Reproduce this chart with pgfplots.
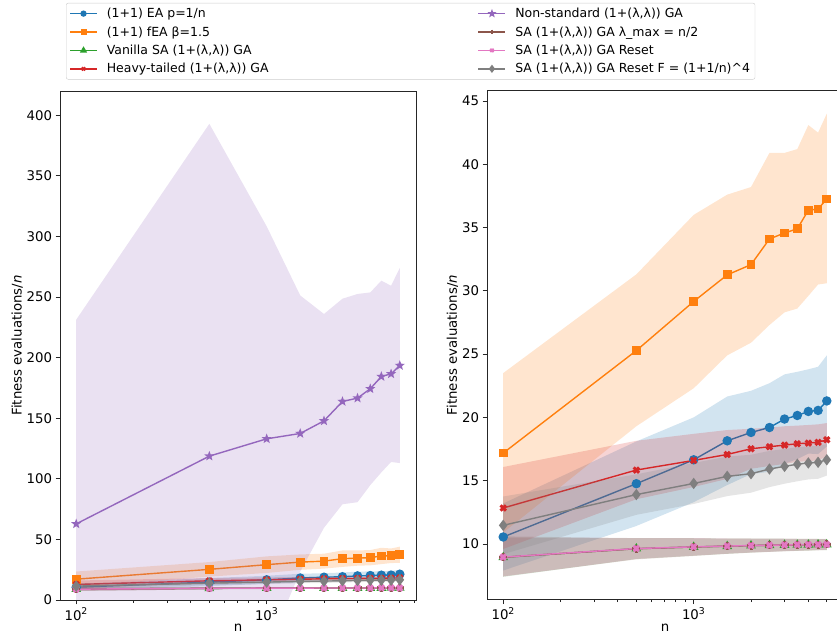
\documentclass[border=0pt]{standalone}
\usepackage{fontspec}
\setmainfont{DejaVu Sans}
\usepackage{pgfplots}
\pgfplotsset{compat=1.18}
\usepackage{pgfplotstable}

\definecolor{cEA}{HTML}{1F77B4}
\definecolor{cfEA}{HTML}{FF7F0E}
\definecolor{cVan}{HTML}{2CA02C}
\definecolor{cHT}{HTML}{D62728}
\definecolor{cNS}{HTML}{9467BD}
\definecolor{cLM}{HTML}{8C564B}
\definecolor{cRS}{HTML}{E377C2}
\definecolor{cRF}{HTML}{7F7F7F}

\pgfdeclareplotmark{fstar}{%
  \pgfpathmoveto{\pgfpointpolar{90}{\pgfplotmarksize}}%
  \pgfpathlineto{\pgfpointpolar{126}{0.42\pgfplotmarksize}}%
  \pgfpathlineto{\pgfpointpolar{162}{\pgfplotmarksize}}%
  \pgfpathlineto{\pgfpointpolar{198}{0.42\pgfplotmarksize}}%
  \pgfpathlineto{\pgfpointpolar{234}{\pgfplotmarksize}}%
  \pgfpathlineto{\pgfpointpolar{270}{0.42\pgfplotmarksize}}%
  \pgfpathlineto{\pgfpointpolar{306}{\pgfplotmarksize}}%
  \pgfpathlineto{\pgfpointpolar{342}{0.42\pgfplotmarksize}}%
  \pgfpathlineto{\pgfpointpolar{18}{\pgfplotmarksize}}%
  \pgfpathlineto{\pgfpointpolar{54}{0.42\pgfplotmarksize}}%
  \pgfpathclose
  \pgfusepathqfillstroke}

% ---------- means ----------
\pgfplotstableread{
x y
100 10.55
500 14.76
1000 16.65
1500 18.15
2000 18.81
2500 19.20
3000 19.87
3500 20.15
4000 20.47
4500 20.55
5000 21.30
}\tEA
\pgfplotstableread{
x y
100 17.18
500 25.28
1000 29.16
1500 31.26
2000 32.07
2500 34.10
3000 34.57
3500 34.90
4000 36.37
4500 36.47
5000 37.26
}\tfEA
\pgfplotstableread{
x y
100 8.94
500 9.63
1000 9.76
1500 9.82
2000 9.87
2500 9.90
3000 9.92
3500 9.93
4000 9.94
4500 9.95
5000 9.95
}\tVan
\pgfplotstableread{
x y
100 12.84
500 15.84
1000 16.60
1500 17.07
2000 17.52
2500 17.68
3000 17.81
3500 17.92
4000 17.97
4500 18.03
5000 18.23
}\tHT
\pgfplotstableread{
x y
100 62.8
500 118.7
1000 133.0
1500 137.4
2000 147.8
2500 163.8
3000 166.6
3500 174.3
4000 184.4
4500 186.6
5000 193.5
}\tNS
\pgfplotstableread{
x y
100 8.95
500 9.62
1000 9.76
1500 9.83
2000 9.87
2500 9.90
3000 9.92
3500 9.93
4000 9.94
4500 9.95
5000 9.96
}\tLM
\pgfplotstableread{
x y
100 8.96
500 9.64
1000 9.77
1500 9.83
2000 9.88
2500 9.90
3000 9.92
3500 9.94
4000 9.95
4500 9.95
5000 9.96
}\tRS
\pgfplotstableread{
x y
100 11.47
500 13.90
1000 14.78
1500 15.34
2000 15.55
2500 15.92
3000 16.13
3500 16.30
4000 16.40
4500 16.45
5000 16.65
}\tRF

% ---------- bands (upper edge forward, lower edge back) ----------
\pgfplotstableread{
x b
100 13.20
500 18.10
1000 20.00
1500 21.65
2000 22.10
2500 22.70
3000 23.40
3500 23.60
4000 23.80
4500 24.00
5000 24.90
5000 17.70
4500 17.10
4000 17.14
3500 16.70
3000 16.34
2500 15.70
2000 15.52
1500 14.65
1000 13.30
500 11.42
100 7.90
}\bEA
\pgfplotstableread{
x b
100 23.50
500 31.30
1000 36.00
1500 37.60
2000 38.20
2500 40.90
3000 40.90
3500 41.20
4000 43.10
4500 42.50
5000 44.00
5000 30.60
4500 30.50
4000 29.60
3500 28.60
3000 28.30
2500 27.30
2000 25.90
1500 24.90
1000 22.30
500 19.30
100 10.90
}\bfEA
\pgfplotstableread{
x b
100 10.50
500 10.45
1000 10.45
1500 10.42
2000 10.42
2500 10.42
3000 10.41
3500 10.40
4000 10.40
4500 10.39
5000 10.39
5000 9.51
4500 9.51
4000 9.48
3500 9.46
3000 9.43
2500 9.38
2000 9.32
1500 9.22
1000 9.07
500 8.81
100 7.40
}\bVan
\pgfplotstableread{
x b
100 16.08
500 18.15
1000 18.70
1500 19.00
2000 19.10
2500 19.20
3000 19.30
3500 19.35
4000 19.40
4500 19.45
5000 19.55
5000 16.91
4500 16.61
4000 16.54
3500 16.49
3000 16.32
2500 16.16
2000 15.94
1500 15.14
1000 14.50
500 13.53
100 9.60
}\bHT
\pgfplotstableread{
x b
100 231.3
500 392.9
1000 308.3
1500 251.3
2000 236.0
2500 248.6
3000 252.5
3500 253.8
4000 263.5
4500 259.3
5000 274.0
5000 113.0
4500 113.9
4000 105.3
3500 94.8
3000 80.7
2500 79.0
2000 59.6
1500 23.5
1000 -42.3
500 -155.5
100 -105.7
}\bNS
\pgfplotstableread{
x b
100 10.60
500 10.46
1000 10.46
1500 10.44
2000 10.43
2500 10.43
3000 10.42
3500 10.41
4000 10.41
4500 10.40
5000 10.40
5000 9.52
4500 9.50
4000 9.47
3500 9.45
3000 9.42
2500 9.37
2000 9.31
1500 9.22
1000 9.05
500 8.78
100 7.44
}\bLM
\pgfplotstableread{
x b
100 10.50
500 10.46
1000 10.46
1500 10.43
2000 10.43
2500 10.42
3000 10.41
3500 10.41
4000 10.40
4500 10.39
5000 10.39
5000 9.53
4500 9.51
4000 9.50
3500 9.47
3000 9.43
2500 9.38
2000 9.33
1500 9.23
1000 9.08
500 8.82
100 7.42
}\bRS
\pgfplotstableread{
x b
100 13.75
500 15.50
1000 16.40
1500 16.90
2000 17.05
2500 17.35
3000 17.50
3500 17.65
4000 17.70
4500 17.75
5000 17.90
5000 15.40
4500 15.15
4000 15.10
3500 14.95
3000 14.76
2500 14.49
2000 14.05
1500 13.78
1000 13.16
500 12.30
100 9.19
}\bRF

\newcommand{\series}[4]{%
  \addplot[fill=#3, fill opacity=0.2, draw=none, forget plot] table[x=x,y=b]{#2};
  \addplot[color=#3, line width=1.4bp, forget plot, #4] table[x=x,y=y]{#1};
}

\newcommand{\fsz}{\fontsize{13.3bp}{15.5bp}\selectfont}
\newcommand{\lsz}{\fontsize{12.5bp}{15bp}\selectfont}

\begin{document}
\begin{tikzpicture}
\useasboundingbox (0,0) rectangle (837bp,634bp);

\begin{axis}[
  scale only axis, width=356bp, height=509bp,
  at={(60bp,34bp)}, anchor=south west,
  xmode=log, xmin=82.2, xmax=6083,
  ymin=0, ymax=420, ytick={0,50,100,150,200,250,300,350,400},
  xtick={100,1000}, xticklabels={10\textsuperscript{2},10\textsuperscript{3}},
  minor xtick={200,300,400,500,600,700,800,900,2000,3000,4000,5000,6000},
  tick align=outside, tick pos=left,
  major tick length=4.5bp, minor tick length=2.6bp,
  tick style={black!85, line width=0.8bp},
  axis line style={black!85, line width=0.8bp},
  tick label style={font=\fsz},
  label style={font=\fsz},
  xlabel style={yshift=3bp},
  ylabel style={yshift=-3bp},
  /pgf/number format/assume math mode=true,
  xlabel={n},
  ylabel={Fitness evaluations/\textit{n}},
  legend columns=2, legend cell align=left,
  legend image code/.code={\draw[mark repeat=2,mark phase=2] plot coordinates {(0bp,0bp) (13.5bp,0bp) (27bp,0bp)};},
  legend style={at={(axis description cs:0.0169,1.173)}, anchor=north west,
    draw=black!20, rounded corners=2bp, fill=white,
    font=\lsz,
    inner xsep=3bp, inner ysep=3bp, row sep=3.4bp,
    /tikz/every odd column/.append style={column sep=7bp},
    /tikz/every even column/.append style={column sep=207bp}},
]
\addlegendimage{cEA, line width=1.6bp, mark=*, mark size=2.3bp}
\addlegendentry{(1+1) EA p=1/n}
\addlegendimage{cNS, line width=1.6bp, mark=fstar, mark size=2.4bp}
\addlegendentry{Non-standard (1+(λ,λ)) GA}
\addlegendimage{cfEA, line width=1.6bp, mark=square*, mark size=2.2bp}
\addlegendentry{(1+1) fEA β=1.5}
\addlegendimage{cLM, line width=1.6bp, mark=+, mark size=2.4bp, mark options={line width=1.8bp}}
\addlegendentry{SA (1+(λ,λ)) GA λ\_max = n/2}
\addlegendimage{cVan, line width=1.6bp, mark=triangle*, mark size=2.6bp}
\addlegendentry{Vanilla SA (1+(λ,λ)) GA}
\addlegendimage{cRS, line width=1.6bp, mark=x, mark size=2.3bp, mark options={line width=1.8bp}}
\addlegendentry{SA (1+(λ,λ)) GA Reset}
\addlegendimage{cHT, line width=1.6bp, mark=x, mark size=2.3bp, mark options={line width=1.8bp}}
\addlegendentry{Heavy-tailed (1+(λ,λ)) GA}
\addlegendimage{cRF, line width=1.6bp, mark=diamond*, mark size=2.8bp}
\addlegendentry{SA (1+(λ,λ)) GA Reset F = (1+1/n)\textasciicircum 4}

\series{\tEA}{\bEA}{cEA}{mark=*, mark size=4bp}
\series{\tfEA}{\bfEA}{cfEA}{mark=square*, mark size=3.7bp}
\series{\tVan}{\bVan}{cVan}{mark=triangle*, mark size=4.2bp}
\series{\tHT}{\bHT}{cHT}{mark=x, mark size=3.8bp, mark options={line width=3bp}}
\series{\tNS}{\bNS}{cNS}{mark=fstar, mark size=3.3bp}
\series{\tLM}{\bLM}{cLM}{mark=+, mark size=4bp, mark options={line width=3bp}}
\series{\tRS}{\bRS}{cRS}{mark=x, mark size=3.8bp, mark options={line width=3bp}}
\series{\tRF}{\bRF}{cRF}{mark=diamond*, mark size=4.6bp}
\end{axis}

\begin{axis}[
  scale only axis, width=356bp, height=509bp,
  at={(487bp,34.5bp)}, anchor=south west,
  xmode=log, xmin=82.2, xmax=6083,
  ymin=5.61, ymax=45.83, ytick={10,15,20,25,30,35,40,45},
  xtick={100,1000}, xticklabels={10\textsuperscript{2},10\textsuperscript{3}},
  minor xtick={200,300,400,500,600,700,800,900,2000,3000,4000,5000,6000},
  tick align=outside, tick pos=left,
  major tick length=4.5bp, minor tick length=2.6bp,
  tick style={black!85, line width=0.8bp},
  axis line style={black!85, line width=0.8bp},
  tick label style={font=\fsz},
  label style={font=\fsz},
  xlabel style={yshift=3bp},
  ylabel style={yshift=-3bp},
  /pgf/number format/assume math mode=true,
  xlabel={n},
  ylabel={Fitness evaluations/\textit{n}},
]
\series{\tEA}{\bEA}{cEA}{mark=*, mark size=4bp}
\series{\tfEA}{\bfEA}{cfEA}{mark=square*, mark size=3.7bp}
\series{\tVan}{\bVan}{cVan}{mark=triangle*, mark size=4.2bp}
\series{\tHT}{\bHT}{cHT}{mark=x, mark size=3.8bp, mark options={line width=3bp}}
\series{\tLM}{\bLM}{cLM}{mark=+, mark size=4bp, mark options={line width=3bp}}
\series{\tRS}{\bRS}{cRS}{mark=x, mark size=3.8bp, mark options={line width=3bp}}
\series{\tRF}{\bRF}{cRF}{mark=diamond*, mark size=4.6bp}
\end{axis}
\end{tikzpicture}
\end{document}
